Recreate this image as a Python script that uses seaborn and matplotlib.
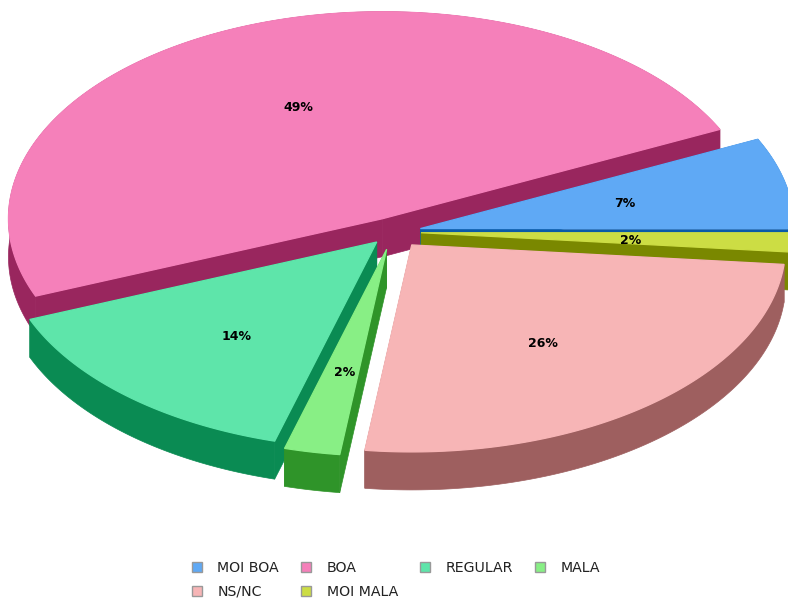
import numpy as np
import matplotlib
matplotlib.use('Agg')
import matplotlib.pyplot as plt
from matplotlib.patches import Patch
import seaborn as sns

categories = ['MOI BOA', 'BOA', 'REGULAR', 'MALA', 'NS/NC', 'MOI MALA']
shares = [7.1, 49.0, 14.5, 2.4, 25.5, 1.5]

top_colors = ['#5FA9F5', '#F580BA', '#5EE5AA', '#88EF85', '#F7B5B6', '#CCDD44']
side_colors = ['#0A5AA8', '#99265E', '#0A8B53', '#2F9429', '#9E5F5F', '#7A8800']
explode = [0.075, 0.07, 0.065, 0.085, 0.08, 0.075]

# slices are painted back to front
paint_order = ['BOA', 'MOI BOA', 'MOI MALA', 'REGULAR', 'MALA', 'NS/NC']
legend_order = ['MOI BOA', 'NS/NC', 'BOA', 'MOI MALA', 'REGULAR', 'MALA']

CX, CY = 393, 232
RX, RY = 374, 207
DEPTH = 38
LABEL_X, LABEL_Y = 0.56, 0.60
LABEL_DROP = 2


def draw_slice(ax, start, stop, frac, top, side):
    mid = np.radians((start + stop) / 2)
    x0 = CX + frac * RX * np.cos(mid)
    y0 = CY - frac * RY * np.sin(mid)
    t = np.radians(np.linspace(start, stop, 200))
    xs = x0 + RX * np.cos(t)
    ys = y0 - RY * np.sin(t)
    # curved wall in one piece, so no seams show between small quads
    ax.fill(np.r_[xs, xs[::-1]], np.r_[ys, ys[::-1] + DEPTH],
            facecolor=side, edgecolor=side, lw=0.5, zorder=1)
    # the two straight walls, the top face hides what it should
    for xe, ye in [(xs[0], ys[0]), (xs[-1], ys[-1])]:
        ax.fill([x0, xe, xe, x0], [y0, ye, ye + DEPTH, y0 + DEPTH],
                facecolor=side, edgecolor=side, lw=0.5, zorder=1)
    # own coloured edge covers the hairline the walls leave round the top
    ax.fill(np.r_[x0, xs], np.r_[y0, ys], facecolor=top, edgecolor=top,
            lw=0.9, zorder=1)
    return x0, y0, mid


sns.set_theme(style='white')
plt.rcParams['font.family'] = ['DejaVu Sans']

fig = plt.figure(figsize=(7.88, 6.04), dpi=100)
ax = fig.add_axes([0, 0, 1, 1])
ax.set_xlim(0, 788)
ax.set_ylim(604, 0)
ax.set_xticks([])
ax.set_yticks([])
sns.despine(ax=ax, left=True, bottom=True)

edges = np.r_[0, np.cumsum(shares)] / sum(shares) * 360
palette = dict(zip(categories, sns.color_palette(top_colors)))

labels = []
for name in paint_order:
    i = categories.index(name)
    x0, y0, mid = draw_slice(ax, edges[i], edges[i + 1], explode[i],
                             palette[name], side_colors[i])
    labels.append((x0 + LABEL_X * RX * np.cos(mid),
                   y0 - LABEL_Y * RY * np.sin(mid) + LABEL_DROP, shares[i]))

for x, y, v in labels:
    ax.text(x, y, f'{v:.0f}%', ha='center', va='center', fontsize=9,
            fontweight='bold', color='black', zorder=5)

handles = [Patch(facecolor=palette[n], edgecolor='#999999', lw=1, label=n)
           for n in legend_order]
ax.legend(handles=handles, ncol=4, loc='center', bbox_to_anchor=(0.5025, 0.04),
          frameon=False, fontsize=10.2, handlelength=0.72, handleheight=0.72,
          handletextpad=1.1, columnspacing=1.55, labelspacing=0.72,
          labelcolor='#222222')

fig.savefig('out.png', dpi=100)
